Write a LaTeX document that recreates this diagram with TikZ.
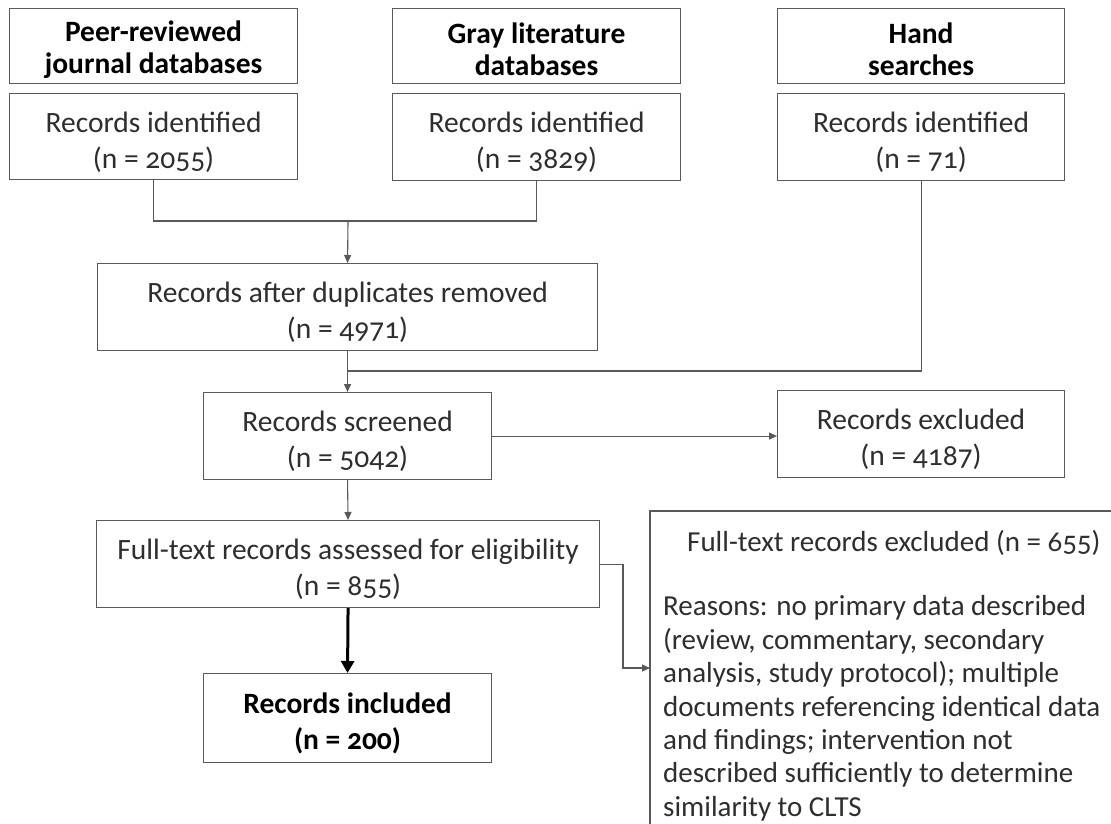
\documentclass[tikz,border=0pt]{standalone}
\usepackage{fontspec}
\setmainfont{Carlito}[Numbers=OldStyle]
\usetikzlibrary{arrows.meta}
\newcommand{\toppad}{\rule{0pt}{31pt}}
\newcommand{\headpad}{\rule{0pt}{28pt}}
\begin{document}
\begin{tikzpicture}[x=1pt,y=-1pt,
  box/.style={draw=black!65, line width=1.1pt, rectangle, anchor=north west, inner sep=0pt,
    align=center, font=\fontsize{29.5}{34}\selectfont, text=black!82},
  hbox/.style={box, font=\fontsize{29.5}{32}\selectfont\bfseries, text=black},
  conn/.style={draw=black!65, line width=1.1pt},
  arr/.style={conn, -{Triangle[length=8pt,width=7pt]}},
  thickarr/.style={draw=black, line width=3pt, -{Triangle[length=12pt,width=13pt]}}
]
\useasboundingbox (0,0) rectangle (1111,823);
\fill[white] (0,0) rectangle (1111,823);

% header boxes
\node[hbox, minimum width=288pt, minimum height=75pt] (h1) at (9,8) {\headpad Peer-reviewed\\journal databases};
\node[hbox, minimum width=288pt, minimum height=75pt] (h2) at (392,8) {\headpad Gray literature\\databases};
\node[hbox, minimum width=287pt, minimum height=75pt] (h3) at (777,8) {\headpad Hand\\searches};

% records identified
\node[box, minimum width=288pt, minimum height=86pt] (r1) at (9,93) {\toppad Records identified\\[2pt](n = 2055)};
\node[box, minimum width=288pt, minimum height=87pt] (r2) at (392,93) {\toppad Records identified\\[2pt](n = 3829)};
\node[box, minimum width=287pt, minimum height=87pt] (r3) at (777,93) {\toppad Records identified\\[2pt](n = 71)};

% flow
\node[box, minimum width=500pt, minimum height=87pt] (dup) at (97,263) {\toppad Records after duplicates removed\\[2pt](n = 4971)};
\node[box, minimum width=288pt, minimum height=87pt] (scr) at (203,392) {\toppad Records screened\\[2pt](n = 5042)};
\node[box, minimum width=287pt, minimum height=87pt] (exc) at (777,390) {\toppad Records excluded\\[2pt](n = 4187)};
\node[box, minimum width=503pt, minimum height=87pt] (ft) at (96,520) {\toppad Full-text records assessed for eligibility\\[2pt](n = 855)};
\node[box, minimum width=288pt, minimum height=89pt, font=\fontsize{29.5}{34}\selectfont\bfseries, text=black] (inc) at (203,673) {\toppad Records included\\[2pt](n = 200)};

% full-text excluded (box runs past the page edge)
\draw[conn] (650,511) rectangle (1140,860);
\coordinate (ftxw) at (650,668);
\node[anchor=north west, inner sep=0pt, align=left, text=black!82,
      font=\fontsize{29}{33.4}\selectfont] (ftx) at (663,530)
  {\hspace*{24pt}Full-text records excluded (n = 655)\\[31pt]
   Reasons: no primary data described\\
   (review, commentary, secondary\\
   analysis, study protocol); multiple\\
   documents referencing identical data\\
   and findings; intervention not\\
   described sufficiently to determine\\
   similarity to CLTS};

% connectors
\coordinate (j1) at (348,221);
\coordinate (j2) at (348,371);
\coordinate (e1) at (623,668);
\draw[conn] (r1.south) |- (j1) -| (r2.south);
\draw[arr] (j1) -- (dup.north);
\draw[conn] (r3.south) |- (j2);
\draw[arr] (dup.south) -- (scr.north);
\draw[arr] (scr.east) -- (scr.east -| exc.west);
\draw[arr] (scr.south) -- (ft.north);
\draw[thickarr] (ft.south) -- (inc.north);
\draw[arr] (ft.east) -| (e1) -- (ftxw);
\end{tikzpicture}
\end{document}
